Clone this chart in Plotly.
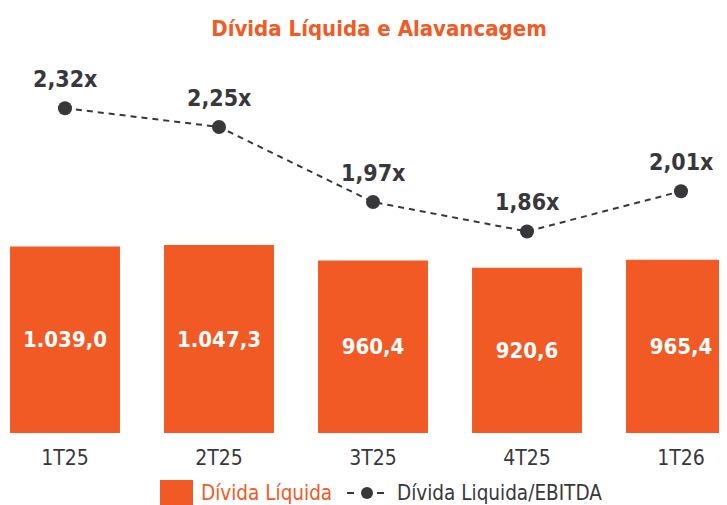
import plotly.graph_objects as go

categories = ["1T25", "2T25", "3T25", "4T25", "1T26"]
divida_liquida = [1039.0, 1047.3, 960.4, 920.6, 965.4]
alavancagem = [2.32, 2.25, 1.97, 1.86, 2.01]
bar_labels = ["1.039,0", "1.047,3", "960,4", "920,6", "965,4"]
line_labels = ["2,32x", "2,25x", "1,97x", "1,86x", "2,01x"]

ORANGE = "#F15A24"
DARK = "#38383C"
FONT = "DejaVu Sans Condensed, Roboto, sans-serif"

OFF = 8  # page body margin
W, H = 727 - OFF, 505 - OFF
T, B = 60 - OFF, 72
plot_h = H - T - B

fig = go.Figure()
fig.add_trace(go.Bar(
    x=categories, y=divida_liquida, name="Dívida Líquida",
    marker=dict(color=ORANGE, line=dict(width=0)),
    text=bar_labels, textposition="inside", insidetextanchor="middle",
    textfont=dict(family=FONT, size=22, color="white", weight="bold"),
    textangle=0, cliponaxis=False, showlegend=False,
))
fig.add_trace(go.Scatter(
    x=categories, y=alavancagem, name="Dívida Liquida/EBITDA", yaxis="y2",
    mode="lines+markers",
    line=dict(color=DARK, width=2, dash="6px,5px"),
    marker=dict(color=DARK, size=14),
    cliponaxis=False, showlegend=False,
))

# custom legend (paper coords, from screen pixels)
def px(x):
    return (x - OFF) / W

def py(y):
    return (H - B - (y - OFF)) / plot_h

leg_y = 493
shapes = [
    dict(type="rect", xref="paper", yref="paper", x0=px(160), x1=px(193),
         y0=py(505), y1=py(480), fillcolor=ORANGE, line=dict(width=0)),
    dict(type="line", xref="paper", yref="paper", x0=px(347), x1=px(387),
         y0=py(leg_y), y1=py(leg_y), line=dict(color=DARK, width=2, dash="7px,8px")),
    dict(type="circle", xref="paper", yref="paper", x0=px(361), x1=px(373),
         y0=py(leg_y + 6), y1=py(leg_y - 6), fillcolor=DARK, line=dict(width=0)),
]
annotations = [
    dict(text="Dívida Líquida", xref="paper", yref="paper", x=px(199), y=py(leg_y),
         xanchor="left", yanchor="middle", showarrow=False,
         font=dict(family=FONT, size=20.5, color=ORANGE)),
    dict(text="Dívida Liquida/EBITDA", xref="paper", yref="paper", x=px(395), y=py(leg_y),
         xanchor="left", yanchor="middle", showarrow=False,
         font=dict(family=FONT, size=20.5, color=DARK)),
]
for c, v, lab in zip(categories, alavancagem, line_labels):
    annotations.append(dict(
        text=lab, x=c, y=v, xref="x", yref="y2", yshift=29,
        xanchor="center", yanchor="middle", showarrow=False,
        font=dict(family=FONT, size=23, color=DARK, weight="bold")))

fig.update_layout(
    width=W, height=H,
    margin=dict(l=0, r=0, t=T, b=B),
    paper_bgcolor="white", plot_bgcolor="white",
    title=dict(text="Dívida Líquida e Alavancagem", x=(379 - OFF) / W, xanchor="center",
               y=1 - (28 - OFF) / H, yanchor="middle", yref="container",
               font=dict(family=FONT, size=22, color=ORANGE, weight="bold")),
    bargap=0.286,
    xaxis=dict(type="category", range=[-(65 - OFF) / 154, (727 - 65) / 154],
               showgrid=False, zeroline=False, showline=False, ticks="",
               ticklabelstandoff=10,
               tickfont=dict(family=FONT, size=21, color=DARK)),
    yaxis=dict(range=[0, plot_h / 0.1795], visible=False),
    yaxis2=dict(range=[1.108, 1.108 + plot_h / 268], overlaying="y", side="right",
                visible=False),
    shapes=shapes, annotations=annotations,
    showlegend=False,
)

fig.write_html("out.html")
